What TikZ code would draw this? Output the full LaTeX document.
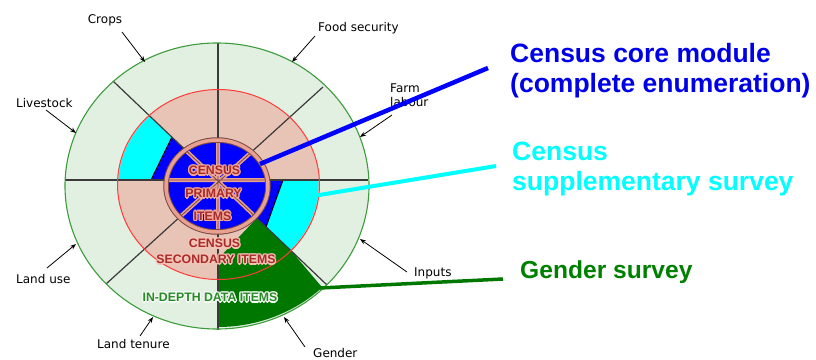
\documentclass[tikz,border=0pt]{standalone}
\usepackage{fontspec}
\setmainfont{Liberation Sans}
\newfontfamily\dejavu{DejaVu Sans}
\usetikzlibrary{arrows.meta}
\definecolor{ringgreen}{HTML}{E2F0E2}
\definecolor{ringgreenline}{HTML}{3C9C3C}
\definecolor{ringpink}{HTML}{E8C4B6}
\definecolor{ringred}{HTML}{FF3B3B}
\definecolor{coreblue}{HTML}{0000FF}
\definecolor{cyanfill}{HTML}{00FFFF}
\definecolor{darkgreen}{HTML}{007800}
\definecolor{spokecol}{HTML}{3A3A3A}
\definecolor{innerpink}{HTML}{E8A090}
\definecolor{innerdark}{HTML}{7A4A44}
\definecolor{txtred}{HTML}{A82A2A}
\definecolor{halopink}{HTML}{F0A898}
\definecolor{halolight}{HTML}{F4C4B6}
\definecolor{txtgreen}{HTML}{2A8A2A}
\definecolor{halowhite}{HTML}{F4FAF4}
\definecolor{titleblue}{HTML}{0000E8}
\definecolor{titlegreen}{HTML}{008000}
\newcommand\halotext[5]{%
  \foreach \hx/\hy in {1.3/0,-1.3/0,0/1.3,0/-1.3,0.9/0.9,-0.9/0.9,0.9/-0.9,-0.9/-0.9}{%
    \node[ringtxt,text=#4] at ([shift={(\hx,\hy)}]#2) {#3};}%
  \node[ringtxt,text=#5] (#1) at (#2) {#3};}
\begin{document}
\begin{tikzpicture}[x=1pt,y=-1pt,
  spokeline/.style={draw=spokecol,line width=1.2},
  ringtxt/.style={inner sep=0,anchor=center,font=\bfseries\fontsize{12.3}{14}\selectfont},
  smalllbl/.style={inner sep=0,anchor=base west,font=\dejavu\fontsize{12}{14}\selectfont},
  lblarrow/.style={draw=black,line width=0.8,-{Stealth[length=6pt,width=4.5pt]}},
  bigtxt/.style={inner sep=0,anchor=base west,font=\bfseries\fontsize{26.5}{30}\selectfont},
  coreconn/.style={draw=coreblue,line width=4.5},
  suppconn/.style={draw=cyanfill,line width=4},
  genderconn/.style={draw=darkgreen,line width=3.5}]
\useasboundingbox (0,0) rectangle (816,359);
\fill[white] (0,0) rectangle (816,359);
% rings
\fill[ringgreen] (217,186) ellipse [x radius=152, y radius=143];
\fill[ringpink] (218.5,184.5) ellipse [x radius=101, y radius=95];
\begin{scope}
  \clip (218.5,184.5) ellipse [x radius=100, y radius=94];
  \fill[cyanfill] (172,137) -- (151,180) -- (100,180) -- (100,69) -- cycle;
  \fill[cyanfill] (283,180) -- (266,227) -- (340,297) -- (340,180) -- cycle;
\end{scope}
\fill[coreblue] (172,137) -- (151,180) -- (219,181) -- cycle;
\fill[coreblue] (283,180) -- (266,227) -- (219,181) -- cycle;
\fill[darkgreen] (257,218) -- (219,258) -- (218,327) arc[start angle=90, end angle=46, x radius=150, y radius=141] -- (293,253) -- cycle;
% slanted separators
\draw[black,line width=1] (172,137) -- (151,180);
\draw[black,line width=1] (283,180) -- (266,227);
% spokes
\draw[spokeline] (65,180) -- (368,180);
\draw[spokeline] (218,43) -- (218,330);
\draw[spokeline] (113,81) -- (327,285);
\draw[spokeline] (323,87) -- (106,284);
% ring outlines
\draw[ringred,line width=1] (218.5,184.5) ellipse [x radius=101, y radius=95];
\draw[ringgreenline,line width=1.1] (217,186) ellipse [x radius=152, y radius=143];
% inner disk
\fill[coreblue] (217,186) ellipse [x radius=51, y radius=46];
\begin{scope}
  \clip (217,186) ellipse [x radius=51, y radius=46];
  \draw[innerpink,line width=4] (65,180) -- (368,180) (218,43) -- (218,330) (113,81) -- (327,285) (323,87) -- (106,284);
  \draw[innerdark,line width=0.8] (65,180) -- (368,180) (218,43) -- (218,330) (113,81) -- (327,285) (323,87) -- (106,284);
\end{scope}
\draw[innerdark,line width=5.5] (217,186) ellipse [x radius=51, y radius=46];
\draw[innerpink,line width=3.5] (217,186) ellipse [x radius=51, y radius=46];
% ring texts
\halotext{prim1}{214.5,170.5}{CENSUS}{halopink}{txtred}
\halotext{prim2}{213.5,193.5}{PRIMARY}{halopink}{txtred}
\halotext{prim3}{212.5,216}{ITEMS}{halopink}{txtred}
\halotext{sec1}{214.5,243.5}{CENSUS}{halolight}{txtred}
\halotext{sec2}{216,259.5}{SECONDARY ITEMS}{halolight}{txtred}
\halotext{indepth}{210,297.5}{IN-DEPTH DATA ITEMS}{halowhite}{txtgreen}
% small labels
\node[smalllbl,anchor=base] (crops) at (105,23) {Crops};
\node[smalllbl] (food) at (318,31) {Food security};
\node[smalllbl] (farm1) at (390,92) {Farm};
\node[smalllbl] (farm2) at (390,106) {labour};
\node[smalllbl] (livestock) at (16,107) {Livestock};
\node[smalllbl] (landuse) at (16,283) {Land use};
\node[smalllbl] (tenure) at (97,348) {Land tenure};
\node[smalllbl] (genderlbl) at (313,357) {Gender};
\node[smalllbl] (inputs) at (414,276) {Inputs};
\coordinate (cropsA) at (122,32);   \coordinate (cropsB) at (145,62);
\coordinate (foodA) at (315,36);    \coordinate (foodB) at (292,62);
\coordinate (farmA) at (392,115);   \coordinate (farmB) at (360,137);
\coordinate (liveA) at (46,110);    \coordinate (liveB) at (76,133);
\coordinate (useA) at (47,268);     \coordinate (useB) at (76,244);
\coordinate (tenA) at (140,336);    \coordinate (tenB) at (153,317);
\coordinate (genA) at (305,347);    \coordinate (genB) at (284,317);
\coordinate (inpA) at (407,272);    \coordinate (inpB) at (360,239);
\draw[lblarrow] (cropsA) -- (cropsB);
\draw[lblarrow] (foodA) -- (foodB);
\draw[lblarrow] (farmA) -- (farmB);
\draw[lblarrow] (liveA) -- (liveB);
\draw[lblarrow] (useA) -- (useB);
\draw[lblarrow] (tenA) -- (tenB);
\draw[lblarrow] (genA) -- (genB);
\draw[lblarrow] (inpA) -- (inpB);
% big titles
\node[bigtxt,text=titleblue] (core1) at (510,62) {Census core module};
\node[bigtxt,text=titleblue] (core2) at (510,92) {(complete enumeration)};
\node[bigtxt,text=cyanfill] (supp1) at (512,160) {Census};
\node[bigtxt,text=cyanfill] (supp2) at (512,190) {supplementary survey};
\node[bigtxt,text=titlegreen,font=\bfseries\fontsize{24.6}{28}\selectfont] (gendersurvey) at (520,278) {Gender survey};
% connectors
\coordinate (coreA) at (260,164);  \coordinate (coreB) at (488,68);
\coordinate (suppA) at (313,196);  \coordinate (suppB) at (496,166);
\coordinate (genSA) at (320,288);  \coordinate (genSB) at (503,279);
\draw[coreconn] (coreA) -- (coreB);
\draw[suppconn] (suppA) -- (suppB);
\draw[genderconn] (genSA) -- (genSB);
\end{tikzpicture}
\end{document}
